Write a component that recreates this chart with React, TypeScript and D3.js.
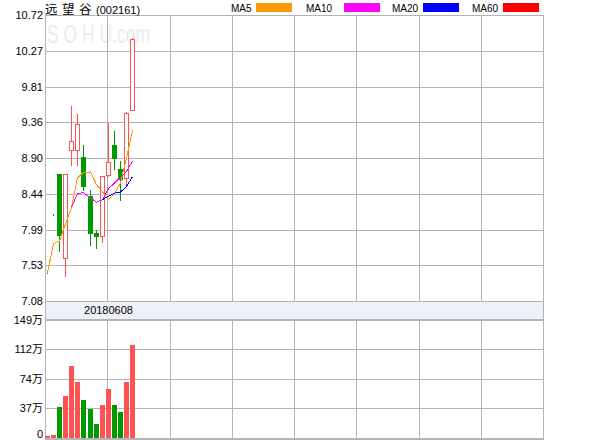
import * as d3 from "d3";

// daily bars, prices in yuan, volume in 万 (10k shares)
const dates = [
  "20180525", "20180528", "20180529", "20180530", "20180531",
  "20180601", "20180604", "20180605", "20180606", "20180607",
  "20180608", "20180611", "20180612", "20180613", "20180614",
];
const opens = [7.44, 8.18, 8.7, 7.63, 9.0, 9.0, 8.91, 8.42, 7.95, 7.91, 8.68, 9.07, 8.76, 8.65, 9.51];
const highs = [7.44, 8.18, 8.7, 8.7, 9.56, 9.46, 9.07, 8.49, 7.99, 8.67, 9.35, 9.24, 8.86, 9.48, 10.43];
const lows = [7.44, 8.18, 7.7, 7.38, 8.8, 8.8, 8.48, 7.78, 7.74, 7.82, 8.66, 8.75, 8.35, 8.53, 9.5];
const closes = [7.44, 8.18, 7.91, 8.7, 9.12, 9.33, 8.53, 7.93, 7.89, 8.67, 8.85, 8.89, 8.62, 9.47, 10.42];
const volumes = [2, 4, 39, 53, 91, 71, 48, 37, 18, 41, 62, 41, 33, 71, 117];

const priceTicks = [7.08, 7.535, 7.99, 8.445, 8.9, 9.355, 9.81, 10.265, 10.72];
const priceTickLabels = ["7.08", "7.53", "7.99", "8.44", "8.90", "9.36", "9.81", "10.27", "10.72"];
const volTicks = [0, 37.25, 74.5, 111.75, 149];
const volTickLabels = ["0", "37万", "74万", "112万", "149万"];
const labelledDates = ["20180608"];

const maPeriods = [5, 10, 20, 60];
const maNames = ["MA5", "MA10", "MA20", "MA60"];
const maColors = ["#ff9900", "#ff00ff", "#0000ff", "#ff0000"];
const maStarts = [0, 4, 9, 29];

const title = "远望谷";
const code = "(002161)";

const W = 600;
const H = 440;
const L = 45;
const R = 543;
const PT = 15;
const PB = 301;
const BB = 319.5;
const VB = 438;
const SLOTS = 81;
const GRID = "#b4b4b4";
const UP = "#ff5252";
const DOWN = "#009900";
const FONT = "'Liberation Sans', 'Noto Sans CJK SC', sans-serif";

function movingAvg(period: number) {
  return closes.map((_, i) => {
    const from = Math.max(0, i - period + 1);
    return d3.mean(closes.slice(from, i + 1)) ?? 0;
  });
}

export default function App() {
  const x = d3.scaleBand<number>().domain(d3.range(SLOTS)).range([43.3, 539.3]).padding(0.25);
  const y = d3.scaleLinear([7.08, 10.72], [PB, PT]);
  const yv = d3.scaleLinear([0, 149], [VB, BB]);
  const px = (i: number) => Math.round(x(i) ?? 0);
  const cx = (i: number) => px(i) + 2.5;
  const bw = 5;

  const legendText = [231, 306, 392, 472];
  const legendBox = [256, 344, 423, 503];
  const vLines = d3.range(9).map((k) => Math.round(L + k * ((R - L) / 8)) + 0.5);

  return (
    <svg
      width={W}
      height={H}
      style={{ position: "absolute", left: 0, top: 0, display: "block", background: "#fff" }}
      fontFamily={FONT}
    >
      {/* watermark */}
      <text
        x={47}
        y={43}
        fontSize={25}
        fill="#ebebeb"
        fontFamily="'Liberation Sans', sans-serif"
        textLength={103}
        lengthAdjust="spacingAndGlyphs"
      >
        S O H U.com
      </text>

      {/* grid */}
      <g stroke={GRID} strokeWidth={1} shapeRendering="crispEdges">
        {vLines.map((v, k) => (
          <line key={"v" + k} x1={v} x2={v} y1={PT} y2={VB} />
        ))}
        {priceTicks.map((t, k) => (
          <line key={"p" + k} x1={L} x2={R + 0.5} y1={Math.round(y(t)) + 0.5} y2={Math.round(y(t)) + 0.5} />
        ))}
        {volTicks.map((t, k) => (
          <line key={"q" + k} x1={L} x2={R + 0.5} y1={Math.round(yv(t)) + 0.5} y2={Math.round(yv(t)) + 0.5} />
        ))}
      </g>
      <rect x={L + 0.5} y={PB + 0.5} width={R - L} height={BB - PB - 1} fill="#eff1f8" stroke={GRID} shapeRendering="crispEdges" />
      <rect x={L} y={VB} width={R - L + 1} height={2} fill={GRID} />

      {/* date label */}
      {labelledDates.map((d) => {
        const i = dates.indexOf(d);
        return (
          <text key={d} x={cx(i)} y={314} fontSize={11} textAnchor="middle" fill="#000">
            {d}
          </text>
        );
      })}

      {/* price axis labels */}
      {priceTicks.map((t, k) => (
        <text key={"pl" + k} x={43} y={y(t) + 4} fontSize={11} textAnchor="end" fill="#000">
          {priceTickLabels[k]}
        </text>
      ))}
      {volTicks.map((t, k) => (
        <text key={"vl" + k} x={43} y={k === 0 ? yv(t) : yv(t) + 4} fontSize={11} textAnchor="end" fill="#000">
          {volTickLabels[k]}
        </text>
      ))}

      {/* title and legend */}
      <text x={45} y={14} fontSize={12.5} fill="#000" fontFamily="'Noto Sans CJK SC', sans-serif">
        <tspan letterSpacing={4.5}>{title}</tspan>
        <tspan fontSize={11} fontFamily={FONT}>{code}</tspan>
      </text>
      {maNames.map((n, k) => (
        <g key={n}>
          <text x={legendText[k]} y={12} fontSize={10} fill="#000">
            {n}
          </text>
          <rect x={legendBox[k]} y={3} width={36} height={9} fill={maColors[k]} />
        </g>
      ))}

      {/* volume bars */}
      <g shapeRendering="crispEdges">
        {volumes.map((v, i) => (
          <rect
            key={"vb" + i}
            x={px(i)}
            y={Math.round(yv(v))}
            width={bw}
            height={Math.max(1, VB - Math.round(yv(v)))}
            fill={closes[i] >= opens[i] ? UP : DOWN}
          />
        ))}
      </g>

      {/* candles */}
      <g shapeRendering="crispEdges">
        {closes.map((c, i) => {
          const o = opens[i];
          const top = Math.round(y(Math.max(o, c)));
          const bot = Math.round(y(Math.min(o, c)));
          const hi = Math.round(y(highs[i]));
          const lo = Math.round(y(lows[i]));
          if (o === c) {
            return <rect key={"c" + i} x={px(i) + 2} y={top - 1} width={1} height={2} fill={DOWN} />;
          }
          if (c > o) {
            return (
              <g key={"c" + i} stroke={UP}>
                {hi < top && <line x1={cx(i)} x2={cx(i)} y1={hi} y2={top} />}
                {lo > bot && <line x1={cx(i)} x2={cx(i)} y1={bot} y2={lo} />}
                <rect x={px(i) + 0.5} y={top + 0.5} width={bw - 1} height={bot - top} fill="#fff" />
              </g>
            );
          }
          return (
            <g key={"c" + i}>
              <line x1={cx(i)} x2={cx(i)} y1={hi} y2={lo} stroke={DOWN} />
              <rect x={px(i)} y={top} width={bw} height={Math.max(1, bot - top)} fill={DOWN} />
            </g>
          );
        })}
      </g>

      {/* moving averages */}
      <g fill="none" strokeWidth={1} shapeRendering="crispEdges">
        {maPeriods.map((p, k) => {
          const ma = movingAvg(p);
          const pts = ma.map((v, i) => [i, v] as [number, number]).filter(([i]) => i >= maStarts[k]);
          if (pts.length < 2) return null;
          const line = d3
            .line<[number, number]>()
            .x(([i]) => cx(i))
            .y(([, v]) => y(v));
          return <path key={"ma" + p} d={line(pts) ?? ""} stroke={maColors[k]} />;
        })}
      </g>
    </svg>
  );
}
